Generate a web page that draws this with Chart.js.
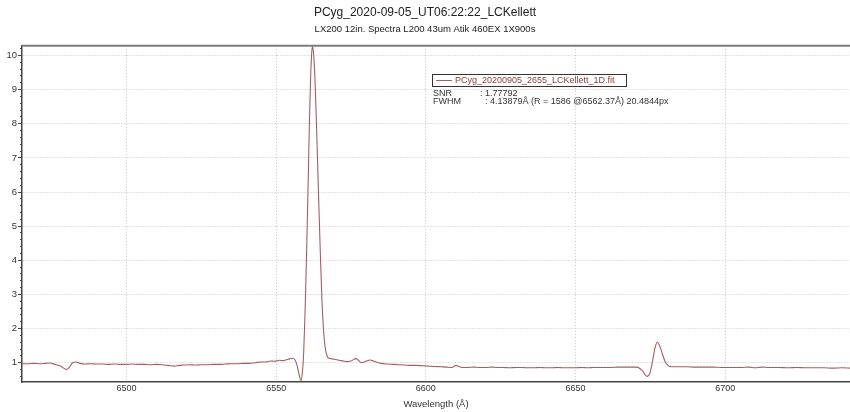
<!DOCTYPE html>
<html>
<head>
<meta charset="utf-8">
<title>PCyg spectrum</title>
<script src="https://cdn.jsdelivr.net/npm/chart.js@4/dist/chart.umd.min.js"></script>
<style>
    html, body { margin: 0; padding: 0; background: #fff; }
    #spectrum { display: block; }
</style>
</head>
<body>
<canvas id="spectrum" width="850" height="412"></canvas>
<script>
// Values
const wavelength = [
    6465, 6467, 6469, 6471, 6473, 6474.5, 6476, 6477, 6478, 6479, 6480, 6481, 6482, 6483, 6484.5,
    6486, 6488, 6490, 6492, 6494, 6496, 6498, 6500, 6502, 6504, 6506, 6508, 6510, 6512, 6514,
    6516, 6517.5, 6519, 6521, 6523, 6525, 6527, 6529, 6531, 6533, 6535, 6537, 6539, 6541, 6543,
    6545, 6546.5, 6548, 6549.5, 6551, 6552.5, 6554, 6555.3, 6556.3, 6557, 6557.6, 6558.3, 6558.8,
    6559.2, 6559.7, 6560.2, 6560.7, 6561.1, 6561.5, 6561.9, 6562.2, 6562.6, 6563.1, 6563.6,
    6564.2, 6564.8, 6565.3, 6565.8, 6566.3, 6567.1, 6568, 6569.5, 6571, 6572.5, 6573.6, 6575,
    6576.7, 6577.5, 6578.6, 6579.5, 6581.4, 6582.5, 6583.6, 6585, 6587, 6589, 6591, 6593, 6595,
    6597, 6599, 6601, 6603, 6605, 6607, 6608.7, 6610.1, 6611, 6612, 6614, 6616, 6618, 6620, 6622,
    6624, 6626, 6628, 6630, 6632, 6634, 6636, 6638, 6640, 6642, 6644, 6646, 6648, 6650, 6652,
    6654, 6656, 6658, 6660, 6662, 6664, 6666, 6668, 6670.4, 6671.5, 6672.6, 6673.3, 6674,
    6674.7, 6675.3, 6676, 6676.6, 6677.3, 6678, 6678.7, 6679.3, 6680, 6680.8, 6681.6, 6683,
    6685, 6687, 6690, 6693, 6696, 6699, 6702, 6705, 6708, 6710, 6712, 6715, 6718, 6721, 6724,
    6727, 6730, 6733, 6736, 6739, 6742
];
const flux = [
    0.97, 0.97, 0.98, 0.97, 0.98, 0.99, 0.95, 0.93, 0.90, 0.84, 0.80, 0.88, 1.00, 1.02, 0.98,
    0.96, 0.97, 0.96, 0.96, 0.95, 0.96, 0.95, 0.95, 0.96, 0.95, 0.95, 0.94, 0.95, 0.94, 0.92,
    0.90, 0.92, 0.93, 0.94, 0.93, 0.94, 0.94, 0.95, 0.95, 0.96, 0.97, 0.97, 0.98, 0.98, 1.00,
    1.02, 1.02, 1.05, 1.04, 1.07, 1.06, 1.10, 1.13, 1.08, 0.92, 0.68, 0.47, 0.75,
    1.30, 2.60, 4.30, 6.30, 8.00, 9.30, 10.10, 10.26, 9.95, 9.00, 7.60,
    5.80, 4.10, 2.85, 2.00, 1.50, 1.18, 1.12, 1.10, 1.07, 1.05, 1.03, 1.05,
    1.12, 1.07, 1.00, 1.02, 1.08, 1.05, 1.01, 0.98, 0.96, 0.95, 0.94, 0.93, 0.92,
    0.92, 0.91, 0.90, 0.89, 0.88, 0.87, 0.86, 0.92, 0.89, 0.86, 0.86, 0.87, 0.86, 0.86, 0.87,
    0.86, 0.86, 0.85, 0.86, 0.86, 0.85, 0.85, 0.86, 0.85, 0.85, 0.86, 0.85, 0.85, 0.85, 0.86,
    0.85, 0.86, 0.86, 0.86, 0.86, 0.87, 0.87, 0.87, 0.87, 0.83, 0.74, 0.64, 0.60,
    0.66, 0.85, 1.18, 1.45, 1.60, 1.52, 1.35, 1.18, 1.02, 0.93, 0.89, 0.88,
    0.88, 0.88, 0.87, 0.87, 0.87, 0.86, 0.86, 0.86, 0.87, 0.85, 0.87, 0.86, 0.86, 0.85, 0.86,
    0.85, 0.85, 0.85, 0.84, 0.85, 0.84
];

const xTicks = [6500, 6550, 6600, 6650, 6700];
const yTicks = [1, 2, 3, 4, 5, 6, 7, 8, 9, 10];
const yMinorTicks = [
    0.6, 0.8, 1.2, 1.4, 1.6, 1.8, 2.2, 2.4, 2.6, 2.8, 3.2, 3.4, 3.6, 3.8,
    4.2, 4.4, 4.6, 4.8, 5.2, 5.4, 5.6, 5.8, 6.2, 6.4, 6.6, 6.8, 7.2, 7.4, 7.6, 7.8,
    8.2, 8.4, 8.6, 8.8, 9.2, 9.4, 9.6, 9.8, 10.2
];
const xRange = [6465.1, 6741.7];
const yRange = [0.434, 10.284];

const seriesLabel = 'PCyg_20200905_2655_LCKellett_1D.fit';
const infoLines = [
    ['SNR', ': 1.77792'],
    ['FWHM', ': 4.13879Å (R = 1586 @6562.37Å) 20.4844px']
];

const FONT = '"Liberation Sans", Arial, sans-serif';
const LINE_COLOR = '#a65e5e';
const GRID_COLOR = '#c4c4c4';

// top edge of the plot frame
const frameTop = {
    id: 'frameTop',
    afterDraw(chart) {
        const { ctx, chartArea } = chart;
        ctx.save();
        ctx.strokeStyle = '#7c7c7c';
        ctx.lineWidth = 2;
        ctx.beginPath();
        ctx.moveTo(chartArea.left, chartArea.top);
        ctx.lineTo(chartArea.right, chartArea.top);
        ctx.stroke();
        ctx.restore();
    }
};

// legend box + SNR / FWHM notes
const infoBox = {
    id: 'infoBox',
    afterDraw(chart) {
        const ctx = chart.ctx;
        const ds = chart.data.datasets[0];
        ctx.save();
        ctx.fillStyle = '#fff';
        ctx.fillRect(432, 74, 194, 13);
        ctx.strokeStyle = '#333';
        ctx.lineWidth = 1;
        ctx.strokeRect(432.5, 74.5, 194, 12);
        ctx.strokeStyle = ds.borderColor;
        ctx.beginPath();
        ctx.moveTo(436, 80.5);
        ctx.lineTo(452, 80.5);
        ctx.stroke();

        ctx.font = '9px ' + FONT;
        ctx.textBaseline = 'middle';
        ctx.fillStyle = '#8a3c3c';
        ctx.fillText(ds.label, 455, 81);

        ctx.fillStyle = '#333';
        infoLines.forEach((line, i) => {
            const y = 94 + i * 8;
            ctx.fillText(line[0], 433, y);
            ctx.fillText(line[1], i === 0 ? 480 : 485, y);
        });
        ctx.restore();
    }
};

class SpectrumChart {
    constructor(canvasId) {
        this.canvas = document.getElementById(canvasId);
        this.chart = null;
        this.init();
    }

    init() {
        const points = wavelength.map((w, i) => ({ x: w, y: flux[i] }));

        this.chart = new Chart(this.canvas.getContext('2d'), {
            type: 'line',
            data: {
                datasets: [{
                    label: seriesLabel,
                    data: points,
                    borderColor: LINE_COLOR,
                    borderWidth: 1.1,
                    pointRadius: 0,
                    cubicInterpolationMode: 'monotone',
                    fill: false
                }]
            },
            options: {
                responsive: false,
                animation: false,
                layout: { padding: { left: 0, right: 0, top: 0, bottom: 0 } },
                plugins: {
                    legend: { display: false },
                    tooltip: { enabled: false },
                    title: {
                        display: true,
                        text: 'PCyg_2020-09-05_UT06:22:22_LCKellett',
                        color: '#222',
                        font: { family: FONT, size: 12, weight: 'normal' },
                        padding: { top: 5, bottom: 2 }
                    },
                    subtitle: {
                        display: true,
                        text: 'LX200 12in. Spectra L200 43um Atik 460EX 1X900s',
                        color: '#222',
                        font: { family: FONT, size: 9.5 },
                        padding: { top: 2, bottom: 11 }
                    }
                },
                scales: {
                    x: {
                        type: 'linear',
                        min: xRange[0],
                        max: xRange[1],
                        afterBuildTicks: axis => { axis.ticks = xTicks.map(v => ({ value: v })); },
                        afterFit: axis => { axis.height = 30; },
                        ticks: {
                            color: '#333',
                            padding: 1,
                            maxRotation: 0,
                            font: { family: FONT, size: 9 },
                            callback: v => String(v)
                        },
                        grid: { color: GRID_COLOR, drawTicks: false },
                        border: { color: '#444', width: 1.5, dash: [1, 2] },
                        title: {
                            display: true,
                            text: 'Wavelength (Å)',
                            color: '#333',
                            font: { family: FONT, size: 9.5 },
                            padding: { top: 0, bottom: 2 }
                        }
                    },
                    y: {
                        type: 'linear',
                        position: 'left',
                        weight: 1,
                        min: yRange[0],
                        max: yRange[1],
                        afterBuildTicks: axis => { axis.ticks = yTicks.map(v => ({ value: v })); },
                        afterFit: axis => { axis.width = 22; },
                        ticks: {
                            color: '#333',
                            padding: 1,
                            font: { family: FONT, size: 9.5 },
                            callback: v => String(v)
                        },
                        grid: { color: GRID_COLOR, tickColor: '#444', tickLength: 4, tickBorderDash: [] },
                        border: { color: '#444', width: 1.5, dash: [1, 2] }
                    },
                    yMinor: {
                        type: 'linear',
                        position: 'left',
                        weight: 0,
                        min: yRange[0],
                        max: yRange[1],
                        afterBuildTicks: axis => { axis.ticks = yMinorTicks.map(v => ({ value: v })); },
                        afterFit: axis => { axis.width = 0; },
                        ticks: { display: false },
                        grid: { drawOnChartArea: false, tickColor: '#444', tickLength: 2 },
                        border: { display: false }
                    }
                }
            },
            plugins: [frameTop, infoBox]
        });
    }
}

document.addEventListener('DOMContentLoaded', () => {
    new SpectrumChart('spectrum');
});
</script>
</body>
</html>
